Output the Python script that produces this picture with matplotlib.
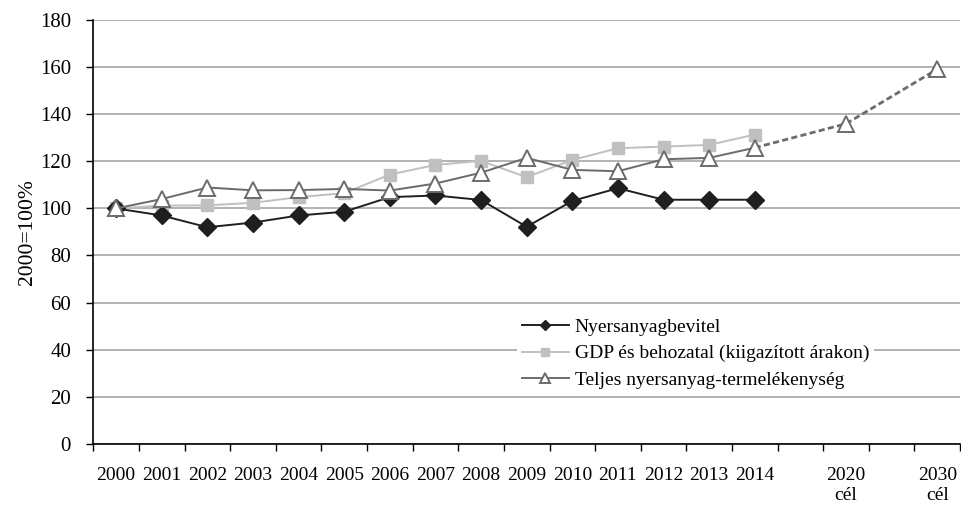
import matplotlib
matplotlib.use("Agg")
import matplotlib.pyplot as plt
import numpy as np

plt.rcParams['font.family'] = ['Liberation Serif', 'DejaVu Serif']

# category labels (two gaps: before 2020 and before 2030)
labels = [str(y) for y in range(2000, 2015)] + ["", "2020\ncél", "", "2030\ncél"]

years = list(range(2000, 2015))
nyersanyag = [100, 97, 92, 94, 97, 98.6, 104.8, 105.5, 103.6, 92.2, 103.2, 108.6, 103.7, 103.7, 103.7]
gdp = [100, 101.2, 101.3, 102.4, 104.8, 106.5, 114.4, 118.5, 120.2, 113.3, 120.6, 125.6, 126.3, 127.0, 131.4]
teljes = [100, 104, 108.9, 107.7, 107.8, 108.3, 107.6, 110.6, 115.2, 121.5, 116.4, 115.8, 120.9, 121.5, 125.8]
cel_labels = ["2014", "2020 cél", "2030 cél"]
cel_values = [125.8, 136.0, 159.2]

x_hist = np.arange(len(years))
x_cel = [14, 16, 18]

fig, ax = plt.subplots(figsize=(9.62, 5.07), dpi=100)
fig.subplots_adjust(left=0.097, right=0.998, top=0.96, bottom=0.125)

ax.yaxis.grid(True, color="#a6a6a6", linewidth=1.2)
ax.set_axisbelow(True)

ax.plot(x_cel, cel_values, color="#6b6b6b", linewidth=2, linestyle=(0, (2.2, 1.2)), zorder=2)
ax.plot(x_cel[1:], cel_values[1:], linestyle="none", marker="^", markersize=11,
        markerfacecolor="white", markeredgecolor="#6b6b6b", markeredgewidth=1.4, zorder=5)

ax.plot(x_hist, nyersanyag, color="#1f1f1f", linewidth=1.4, marker="D", markersize=9,
        label="Nyersanyagbevitel", zorder=4)
ax.plot(x_hist, gdp, color="#c0c0c0", linewidth=1.4, marker="s", markersize=9,
        label="GDP és behozatal (kiigazított árakon)", zorder=3)
ax.plot(x_hist, teljes, color="#6b6b6b", linewidth=1.4, marker="^", markersize=11,
        markerfacecolor="white", markeredgecolor="#6b6b6b", markeredgewidth=1.4,
        label="Teljes nyersanyag-termelékenység", zorder=5)

ax.set_xlim(-0.5, len(labels) - 0.5)
ax.set_ylim(0, 180)
ax.set_yticks(range(0, 181, 20))
ax.set_xticks(range(len(labels)))
ax.set_xticklabels(labels)
ax.set_xticks(np.arange(-0.5, len(labels), 1), minor=True)
ax.tick_params(axis="x", which="major", length=0, pad=17, labelsize=14)
ax.tick_params(axis="x", which="minor", length=5, width=1, direction="out")
ax.tick_params(axis="y", length=5, width=1, labelsize=15, pad=11)
ax.set_ylabel("2000=100%", fontsize=15.5, labelpad=2)

for s in ["top", "right"]:
    ax.spines[s].set_visible(False)
ax.spines["left"].set_linewidth(1.2)
ax.spines["bottom"].set_linewidth(1.2)

leg = ax.legend(loc="lower left", bbox_to_anchor=(0.489, 0.118), frameon=True, fontsize=14,
                markerscale=0.6, handlelength=2.4, handletextpad=0.3, labelspacing=0.45,
                borderpad=0.25, borderaxespad=0)
leg.get_frame().set_edgecolor("none")
leg.get_frame().set_facecolor("white")
leg.get_frame().set_alpha(1)
leg.get_frame().set_boxstyle("square", pad=0)
leg.set_zorder(10)

fig.savefig("out.png", dpi=100)
